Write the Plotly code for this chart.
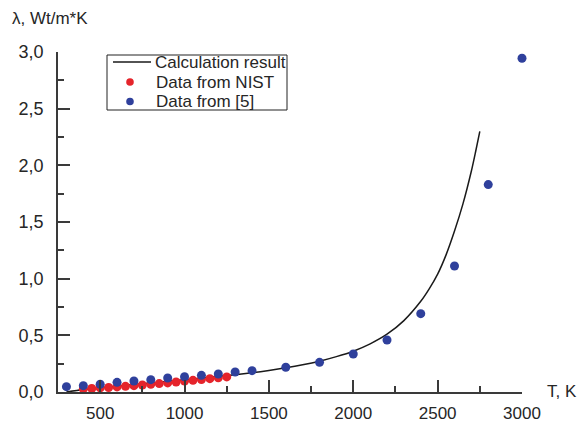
import plotly.graph_objects as go

# Calculation result (line)
calc_T = [300, 400, 500, 600, 700, 800, 900, 1000, 1100, 1200, 1300, 1400, 1500,
          1600, 1700, 1800, 1900, 2000, 2100, 2200, 2300, 2400, 2450, 2500, 2550,
          2600, 2650, 2700, 2725, 2750]
calc_lambda = [0.0, 0.022, 0.038, 0.052, 0.066, 0.080, 0.094, 0.108, 0.122, 0.137, 0.153,
               0.170, 0.190, 0.213, 0.240, 0.272, 0.312, 0.360, 0.425, 0.510, 0.630,
               0.800, 0.910, 1.040, 1.210, 1.420, 1.660, 1.950, 2.120, 2.300]

# Data from NIST (red)
nist_T = [400, 450, 500, 550, 600, 650, 700, 750, 800, 850, 900, 950, 1000, 1050,
          1100, 1150, 1200, 1250]
nist_lambda = [0.027, 0.031, 0.036, 0.040, 0.045, 0.050, 0.056, 0.062, 0.068, 0.074,
               0.080, 0.088, 0.096, 0.103, 0.110, 0.118, 0.125, 0.133]

# Data from [5] (blue)
ref5_T = [300, 400, 500, 600, 700, 800, 900, 1000, 1100, 1200, 1300, 1400, 1600,
          1800, 2000, 2200, 2400, 2600, 2800, 3000]
ref5_lambda = [0.047, 0.056, 0.068, 0.085, 0.097, 0.109, 0.124, 0.135, 0.147, 0.159,
               0.176, 0.188, 0.218, 0.262, 0.335, 0.459, 0.691, 1.112, 1.830, 2.945]

series_names = ["Calculation result", "Data from NIST", "Data from [5]"]
x_ticks = [500, 1000, 1500, 2000, 2500, 3000]
y_ticks = [0.0, 0.5, 1.0, 1.5, 2.0, 2.5, 3.0]

FONT = "Liberation Sans, Arial, sans-serif"
AXC = "#3a3a3a"
TXT = "#262626"
RED = "#e5242b"
BLUE = "#2f409c"

# plot area in pixels
L, R, T, B = 58, 61, 52, 34
W, H = 583, 426
PW, PH = W - L - R, H - T - B


def px(x):
    return (x - L) / PW


def py(y):
    return (H - B - y) / PH


fig = go.Figure()
fig.add_trace(go.Scatter(x=calc_T, y=calc_lambda, mode="lines", name=series_names[0],
                         line=dict(color="#1a1a1a", width=1.5, shape="spline", smoothing=0.8),
                         cliponaxis=False, showlegend=False))
fig.add_trace(go.Scatter(x=nist_T, y=nist_lambda, mode="markers", name=series_names[1],
                         marker=dict(color=RED, size=9), cliponaxis=False, showlegend=False))
fig.add_trace(go.Scatter(x=ref5_T, y=ref5_lambda, mode="markers", name=series_names[2],
                         marker=dict(color=BLUE, size=9), cliponaxis=False, showlegend=False))

fig.update_layout(
    width=W, height=H,
    margin=dict(l=L, r=R, t=T, b=B, autoexpand=False),
    paper_bgcolor="white", plot_bgcolor="white",
    font=dict(family=FONT, size=17, color=TXT),
    showlegend=False,
    xaxis=dict(range=[250, 3000], tickmode="array", tickvals=x_ticks,
               ticktext=[str(v) for v in x_ticks], automargin=False,
               showgrid=False, zeroline=False, showline=True, linecolor=AXC, linewidth=1.5,
               ticks="inside", ticklen=12, tickwidth=1.5, tickcolor=AXC,
               minor=dict(ticks="inside", ticklen=6, tickwidth=1.5, tickcolor=AXC,
                          tickvals=[750, 1250, 1750, 2250, 2750]),
               ticklabelstandoff=5,
               tickfont=dict(size=17, color=TXT)),
    yaxis=dict(range=[0, 3.0], tickmode="array", tickvals=y_ticks,
               ticktext=[f"{v:.1f}".replace(".", ",") for v in y_ticks], automargin=False,
               showgrid=False, zeroline=False, showline=True, linecolor=AXC, linewidth=1.5,
               ticks="inside", ticklen=12, tickwidth=1.5, tickcolor=AXC,
               minor=dict(ticks="inside", ticklen=6, tickwidth=1.5, tickcolor=AXC,
                          tickvals=[0.25, 0.75, 1.25, 1.75, 2.25, 2.75]),
               ticklabelstandoff=9,
               tickfont=dict(size=18, color=TXT)),
)

# axis titles
fig.add_annotation(text="λ, Wt/m*K", xref="paper", yref="paper",
                   x=px(10), y=py(19), xanchor="left", yanchor="middle",
                   showarrow=False, font=dict(size=17, color=TXT))
fig.add_annotation(text="T, K", xref="paper", yref="paper",
                   x=px(545), y=py(391), xanchor="left", yanchor="middle",
                   showarrow=False, font=dict(size=17, color=TXT))

# legend (drawn manually for compact spacing)
fig.add_shape(type="rect", xref="paper", yref="paper",
              x0=px(107), x1=px(287), y0=py(110), y1=py(55),
              line=dict(color="#222", width=1), fillcolor="white", layer="above")
fig.add_shape(type="line", xref="paper", yref="paper",
              x0=px(113), x1=px(151), y0=py(62), y1=py(62),
              line=dict(color="#1a1a1a", width=1.5), layer="above")
for cy, col in [(82, RED), (101.5, BLUE)]:
    fig.add_shape(type="circle", xref="paper", yref="paper",
                  x0=px(130 - 3.8), x1=px(130 + 3.8), y0=py(cy + 3.8), y1=py(cy - 3.8),
                  line=dict(width=0), fillcolor=col, layer="above")
for (tx, ty), name in zip([(153, 62), (154, 82), (154, 101.5)], series_names):
    fig.add_annotation(text=name, xref="paper", yref="paper",
                       x=px(tx), y=py(ty), xanchor="left", yanchor="middle",
                       showarrow=False, font=dict(size=17, color=TXT))

fig.write_html("out.html")
